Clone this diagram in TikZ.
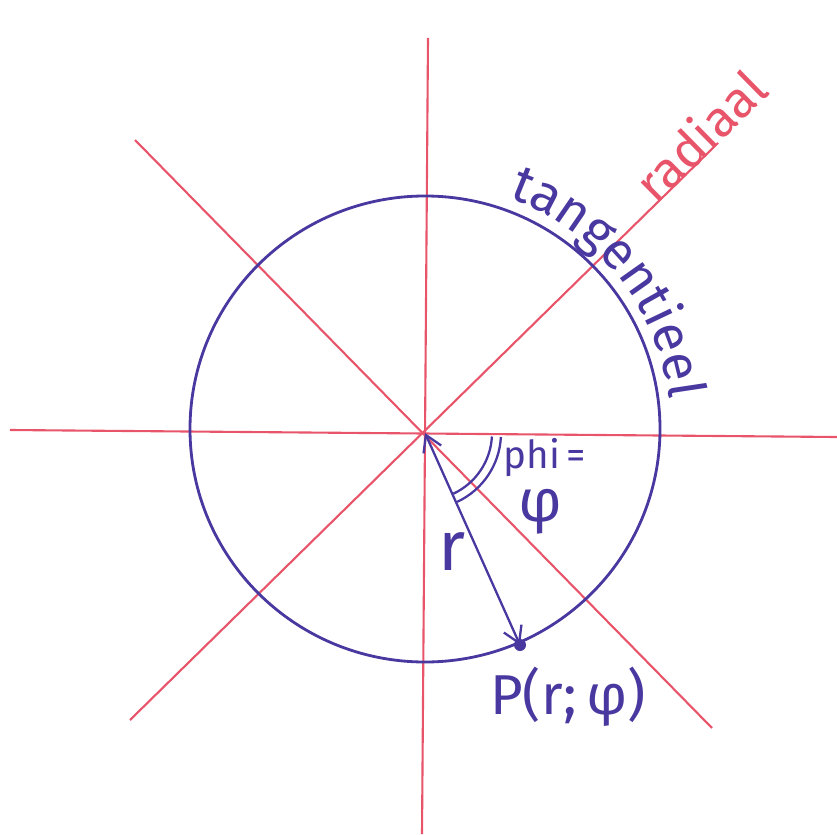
\documentclass[tikz,border=0pt]{standalone}
\usepackage{fontspec}
\setmainfont{Fira Sans}
\usetikzlibrary{arrows.meta,decorations.text}
\definecolor{penred}{RGB}{232,84,106}
\definecolor{penblue}{RGB}{72,56,160}
\tikzset{
  axis/.style={draw=penred, line width=1.2pt},
  pen/.style={draw=penblue, line width=1.6pt},
  bluetext/.style={text=penblue, inner sep=0pt},
}
\begin{document}
\begin{tikzpicture}[x=0.02cm, y=-0.02cm]
\useasboundingbox (0,0) rectangle (837,834);
% named points
\coordinate (O) at (425,433);
\coordinate (vt) at (428,38);
\coordinate (vb) at (422,834);
\coordinate (hl) at (10,430);
\coordinate (hr) at (837,437);
\coordinate (d1a) at (135,140);
\coordinate (d1b) at (712,728);
\coordinate (d2a) at (130,720);
\coordinate (d2b) at (718,143);
% red axes
\draw[axis] (vt) -- (vb);
\draw[axis] (hl) -- (hr);
\draw[axis] (d1a) -- (d1b);
\draw[axis] (d2a) -- (d2b);
% circle
\draw[pen] (425,429) circle[x radius=235, y radius=233];
% point P
\coordinate (P) at (520,645);
\fill[penblue] (P) circle[radius=6];
% radius arrow
\draw[pen, line width=1.3pt, {Straight Barb[length=9pt,width=11pt]}-{Straight Barb[length=9pt,width=11pt]}] (O) -- (P);
% angle double arc
\draw[pen, line width=1.3pt] (O) ++(3:67) arc[start angle=3, end angle=65, radius=67];
\draw[pen, line width=1.3pt] (O) ++(3:76) arc[start angle=3, end angle=65, radius=76];
% labels
\node[bluetext, font=\fontsize{22}{24}\selectfont] (phi) at (545,458) {phi\,=};
\node[bluetext, font=\fontsize{34}{36}\selectfont] (vphi) at (540,512) {φ};
\node[bluetext, font=\fontsize{40}{42}\selectfont] (r) at (452,552) {r};
\node[bluetext, font=\fontsize{32}{34}\selectfont] (Plab) at (568,697) {P(r;\,φ)};
\node[text=penred, inner sep=0pt, rotate=44.5, font=\fontsize{29}{31}\selectfont] (radiaal) at (700,135) {radiaal};
% tangentieel along the circle
\path[decorate, decoration={text along path, text align=center,
  text={|\color{penblue}\fontsize{30}{32}\selectfont|tangentieel}}]
  (425,429) ++(-76:246) arc[start angle=-76, end angle=-1, radius=246];
\end{tikzpicture}
\end{document}
